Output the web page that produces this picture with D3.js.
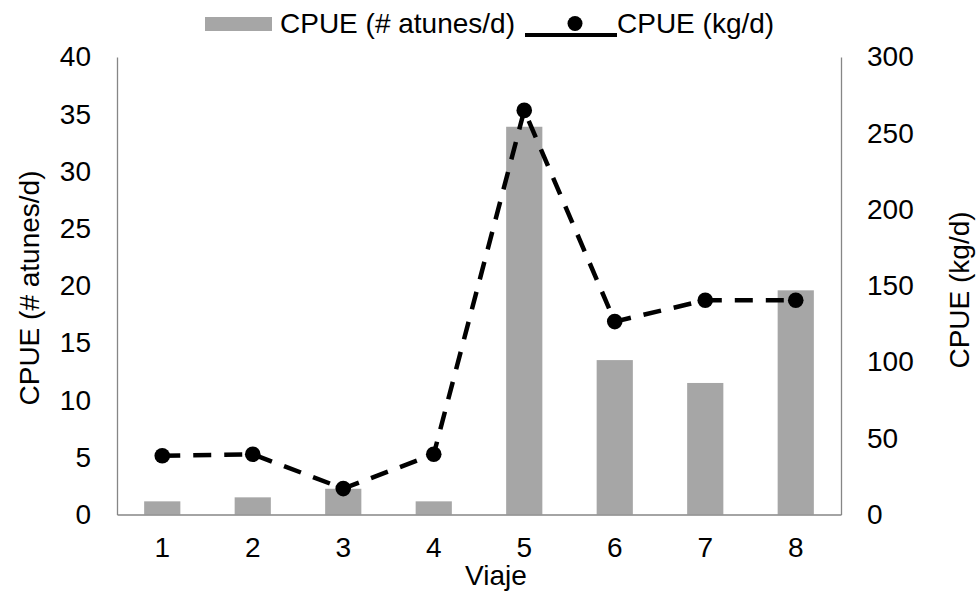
<!DOCTYPE html>
<html>
<head>
<meta charset="utf-8">
<script src="https://cdn.jsdelivr.net/npm/d3@7"></script>
<style>
  body { margin: 0; background: #fff; }
  svg { font-family: "Liberation Sans", Arial, sans-serif; }
  .axis path { stroke: #868686; stroke-width: 1.3; }
  .axis text { fill: #000; font-size: 28px; font-family: "Liberation Sans", Arial, sans-serif; }
</style>
</head>
<body>
<script>
// data
let viajes = ['1', '2', '3', '4', '5', '6', '7', '8'];
let cpueAtunes = [1.15, 1.5, 2.25, 1.15, 33.9, 13.5, 11.5, 19.6]; // # atunes/d (bars, left)
let cpueKg = [38.5, 39.5, 17, 39.5, 265, 126.5, 140.5, 140.5]; // kg/d (line, right)
let leftTicks = [0, 5, 10, 15, 20, 25, 30, 35, 40];
let rightTicks = [0, 50, 100, 150, 200, 250, 300];

let width = 979, height = 592;
let plot = { left: 117, right: 841, top: 57, bottom: 514.5 };

let svg = d3.select('body').append('svg')
    .attr('width', width)
    .attr('height', height);

let x = d3.scaleBand().domain(viajes)
    .range([plot.left, plot.right])
    .paddingInner(0.6)
    .paddingOuter(0.3);

let yL = d3.scaleLinear().domain([0, 40]).range([plot.bottom, plot.top]);
let yR = d3.scaleLinear().domain([0, 300]).range([plot.bottom, plot.top]);

// bars
svg.append('g').selectAll('rect')
    .data(cpueAtunes)
  .enter().append('rect')
    .attr('x', function(d, i){ return x(viajes[i]); })
    .attr('y', function(d){ return yL(d); })
    .attr('width', x.bandwidth())
    .attr('height', function(d){ return yL(0) - yL(d); })
    .attr('fill', '#a6a6a6');

// axes
svg.append('g')
    .attr('class', 'axis')
    .attr('transform', 'translate(' + plot.left + ',0)')
    .call(d3.axisLeft(yL).tickValues(leftTicks).tickSize(0).tickPadding(26));

svg.append('g')
    .attr('class', 'axis')
    .attr('transform', 'translate(' + plot.right + ',0)')
    .call(d3.axisRight(yR).tickValues(rightTicks).tickSize(0).tickPadding(26));

svg.append('g')
    .attr('class', 'axis')
    .attr('transform', 'translate(0,' + plot.bottom + ')')
    .call(d3.axisBottom(x).tickSize(0).tickPadding(22.5));

// line
let line = d3.line()
  .x(function(d, i){ return x(viajes[i]) + x.bandwidth() / 2; })
  .y(function(d){ return yR(d); });

svg.append('path')
    .datum(cpueKg)
    .attr('d', line)
    .attr('fill', 'none')
    .attr('stroke', '#000')
    .attr('stroke-width', 4.5)
    .attr('stroke-dasharray', '18,13');

svg.append('g').selectAll('circle')
    .data(cpueKg)
  .enter().append('circle')
    .attr('cx', function(d, i){ return x(viajes[i]) + x.bandwidth() / 2; })
    .attr('cy', function(d){ return yR(d); })
    .attr('r', 7.8)
    .attr('fill', '#000');

// axis titles
svg.append('text')
    .attr('transform', 'translate(39,288) rotate(-90)')
    .attr('text-anchor', 'middle')
    .attr('font-size', 28)
    .text('CPUE (# atunes/d)');

svg.append('text')
    .attr('transform', 'translate(969,290) rotate(-90)')
    .attr('text-anchor', 'middle')
    .attr('font-size', 28)
    .text('CPUE (kg/d)');

svg.append('text')
    .attr('x', 496)
    .attr('y', 585)
    .attr('text-anchor', 'middle')
    .attr('font-size', 28)
    .text('Viaje');

// legend
let legend = svg.append('g');
legend.append('rect')
    .attr('x', 205).attr('y', 17)
    .attr('width', 67).attr('height', 14)
    .attr('fill', '#a6a6a6');
legend.append('text')
    .attr('x', 280).attr('y', 33)
    .attr('font-size', 28)
    .text('CPUE (# atunes/d)');
legend.append('line')
    .attr('x1', 525).attr('x2', 617)
    .attr('y1', 35).attr('y2', 35)
    .attr('stroke', '#000')
    .attr('stroke-width', 4);
legend.append('circle')
    .attr('cx', 575).attr('cy', 23.5)
    .attr('r', 7.5)
    .attr('fill', '#000');
legend.append('text')
    .attr('x', 617).attr('y', 33)
    .attr('font-size', 28)
    .text('CPUE (kg/d)');
</script>
</body>
</html>
